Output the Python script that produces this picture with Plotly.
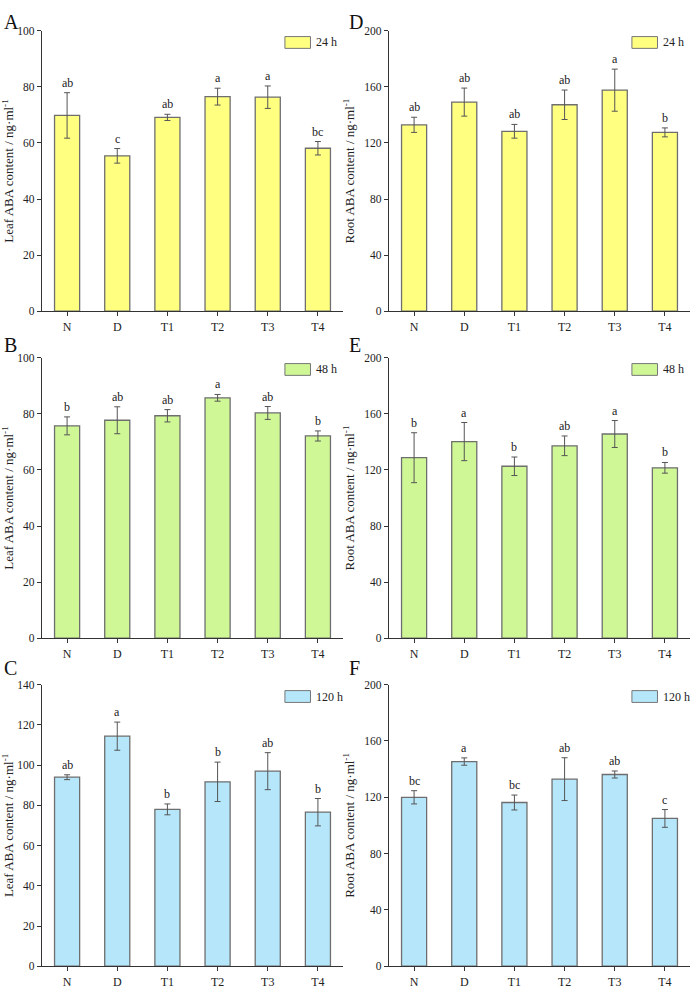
import plotly.graph_objects as go

categories = ["N", "D", "T1", "T2", "T3", "T4"]

leaf_24 = [69.8, 55.4, 69.1, 76.5, 76.3, 58.1]
leaf_24_err = [8.1, 2.6, 1.1, 3.0, 4.0, 2.4]
leaf_24_sig = ["ab", "c", "ab", "a", "a", "bc"]

root_24 = [132.9, 149.1, 128.3, 147.2, 157.6, 127.5]
root_24_err = [5.4, 10.0, 4.9, 10.5, 15.0, 3.2]
root_24_sig = ["ab", "ab", "ab", "ab", "a", "b"]

leaf_48 = [75.7, 77.7, 79.3, 85.7, 80.3, 72.1]
leaf_48_err = [3.2, 4.8, 2.2, 1.2, 2.3, 1.8]
leaf_48_sig = ["b", "ab", "ab", "a", "ab", "b"]

root_48 = [128.7, 140.2, 122.6, 137.2, 145.6, 121.5]
root_48_err = [17.8, 13.6, 6.6, 7.0, 9.6, 3.8]
root_48_sig = ["b", "a", "b", "ab", "a", "b"]

leaf_120 = [94.0, 114.4, 78.0, 91.7, 97.0, 76.6]
leaf_120_err = [1.2, 7.0, 2.7, 9.8, 9.2, 6.8]
leaf_120_sig = ["ab", "a", "b", "b", "ab", "b"]

root_120 = [120.0, 145.4, 116.3, 132.9, 136.2, 105.0]
root_120_err = [4.7, 2.6, 5.3, 15.2, 2.5, 6.3]
root_120_sig = ["bc", "a", "bc", "ab", "ab", "c"]

time_labels = ["24 h", "48 h", "120 h"]
panel_letters = ["A", "D", "B", "E", "C", "F"]
leaf_title = "Leaf ABA content / ng·ml<sup>-1</sup>"
root_title = "Root ABA content / ng·ml<sup>-1</sup>"

W, H = 691, 992
FONT = "Liberation Serif, Times New Roman, serif"
colors = {"24 h": "#FFFF80", "48 h": "#CFF796", "120 h": "#B5E6FA"}

# (values, errors, letters, time, title, yrange, dtick, px-x-domain, px-y-domain, panel-label pos)
panels = [
    (leaf_24, leaf_24_err, leaf_24_sig, "24 h", leaf_title, 100, 20, (42, 343), (25, 309), (2, 3)),
    (root_24, root_24_err, root_24_sig, "24 h", root_title, 200, 40, (389, 690), (25, 309), (347, 3)),
    (leaf_48, leaf_48_err, leaf_48_sig, "48 h", leaf_title, 100, 20, (42, 343), (356, 640), (2, 330)),
    (root_48, root_48_err, root_48_sig, "48 h", root_title, 200, 40, (389, 690), (356, 640), (347, 330)),
    (leaf_120, leaf_120_err, leaf_120_sig, "120 h", leaf_title, 140, 20, (42, 343), (687, 972), (2, 657)),
    (root_120, root_120_err, root_120_sig, "120 h", root_title, 200, 40, (389, 690), (687, 972), (347, 657)),
]

fig = go.Figure()
annotations = []
shapes = []
layout_axes = {}

for i, (vals, errs, sigs, tl, ytitle, ymax, dtick, (x0, x1), (y0, y1), (lx, ly)) in enumerate(panels, start=1):
    xa = "x" if i == 1 else f"x{i}"
    ya = "y" if i == 1 else f"y{i}"
    xname = "xaxis" if i == 1 else f"xaxis{i}"
    yname = "yaxis" if i == 1 else f"yaxis{i}"
    fig.add_trace(go.Bar(
        x=categories, y=vals, name=tl, showlegend=False,
        xaxis=xa, yaxis=ya, width=0.5,
        marker=dict(color=colors[tl], line=dict(color="#6e6e6e", width=1.3)),
        error_y=dict(type="data", array=errs, visible=True, color="#555555", thickness=1, width=3),
    ))
    layout_axes[xname] = dict(
        domain=[x0 / W, x1 / W], anchor=ya, range=[-0.5, 5.5],
        showline=True, linecolor="#333333", linewidth=1.2,
        ticks="outside", ticklen=4, tickcolor="#333333", tickwidth=1,
        tickfont=dict(family=FONT, size=12, color="#222222"),
        showgrid=False, zeroline=False, fixedrange=True,
    )
    layout_axes[yname] = dict(
        domain=[1 - y1 / H, 1 - y0 / H], anchor=xa, range=[0, ymax], dtick=dtick,
        showline=True, linecolor="#333333", linewidth=1.2,
        ticks="outside", ticklen=4, tickcolor="#333333", tickwidth=1,
        tickfont=dict(family=FONT, size=11.5, color="#222222"),
        showgrid=False, zeroline=False, fixedrange=True,
        title=dict(text=ytitle, font=dict(family=FONT, size=13, color="#222222"), standoff=6),
    )
    # significance letters
    for c, v, e, s in zip(categories, vals, errs, sigs):
        annotations.append(dict(
            x=c, y=v + e, xref=xa, yref=ya, text=s, showarrow=False,
            xanchor="center", yanchor="bottom", yshift=1,
            font=dict(family=FONT, size=12, color="#222222"),
        ))
    # legend swatch + label
    shapes.append(dict(
        type="rect", xref=f"{xa} domain", yref=f"{ya} domain",
        x0=0.807, x1=0.892, y0=0.937, y1=0.979,
        fillcolor=colors[tl], line=dict(color="#777777", width=1),
    ))
    annotations.append(dict(
        x=0.902, y=0.958, xref=f"{xa} domain", yref=f"{ya} domain", text=tl,
        showarrow=False, xanchor="left", yanchor="middle",
        font=dict(family=FONT, size=12, color="#222222"),
    ))
    # panel letter
    annotations.append(dict(
        x=lx / W, y=1 - ly / H, xref="paper", yref="paper", text=panel_letters[i - 1],
        showarrow=False, xanchor="left", yanchor="top",
        font=dict(family=FONT, size=20, color="#111111"),
    ))

fig.update_layout(
    width=W, height=H, margin=dict(l=0, r=0, t=0, b=0),
    paper_bgcolor="white", plot_bgcolor="white",
    bargap=0.5, annotations=annotations, shapes=shapes,
    font=dict(family=FONT), **layout_axes,
)

fig.write_html(
    "out.html",
    config={"displayModeBar": False, "responsive": False},
    post_script=(
        "document.documentElement.style.margin='0';"
        "document.documentElement.style.overflow='hidden';"
        "document.body.style.margin='0';document.body.style.padding='0';"
        "document.body.style.overflow='hidden';"
        "var d=document.getElementById('{plot_id}');"
        "if(d&&d.parentElement){d.parentElement.style.height='992px';"
        "d.parentElement.style.width='691px';d.parentElement.style.overflow='hidden';}"
    ),
)
